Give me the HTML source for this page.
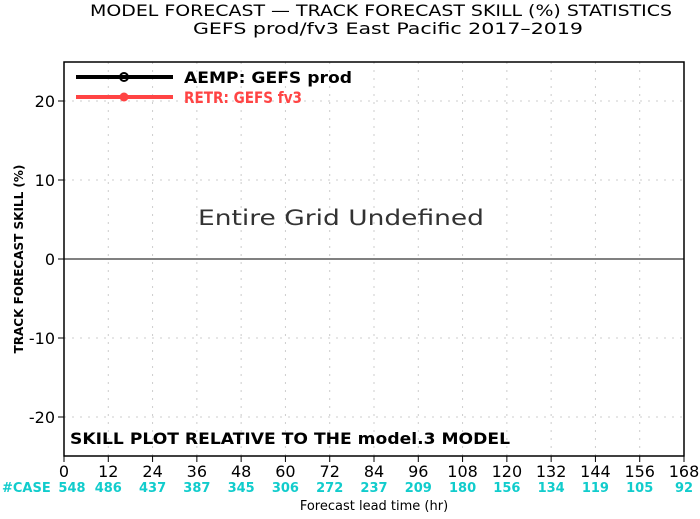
<!DOCTYPE html>
<html><head><meta charset="utf-8"><style>
body{margin:0;background:#fff}
svg text{font-family:"DejaVu Sans","Liberation Sans",sans-serif}
</style></head><body>
<svg id="chart" width="700" height="514" xmlns="http://www.w3.org/2000/svg">
<text x="90" y="16" font-size="16" textLength="582" lengthAdjust="spacingAndGlyphs">MODEL FORECAST — TRACK FORECAST SKILL (%) STATISTICS</text>
<text x="193" y="34" font-size="16" textLength="390" lengthAdjust="spacingAndGlyphs">GEFS prod/fv3 East Pacific 2017–2019</text>
<g id="grid"></g>
<g id="axes"></g>
<rect x="64" y="62" width="620" height="394" fill="none" stroke="#000" stroke-width="1.5"/>
<line x1="64" y1="259" x2="684" y2="259" stroke="#000" stroke-width="1"/>
<text x="198" y="225" font-size="21" fill="#333" textLength="286" lengthAdjust="spacingAndGlyphs">Entire Grid Undefined</text>
<g>
<line x1="76" y1="77" x2="173" y2="77" stroke="#000" stroke-width="4"/>
<circle cx="124" cy="77" r="4" fill="none" stroke="#000" stroke-width="2"/>
<text x="184" y="83" font-size="16" font-weight="bold" textLength="168" lengthAdjust="spacingAndGlyphs">AEMP: GEFS prod</text>
<line x1="76" y1="97" x2="173" y2="97" stroke="#f44" stroke-width="4"/>
<circle cx="124" cy="97" r="4.5" fill="#f44"/>
<text x="184" y="103" font-size="16" font-weight="bold" fill="#f44" textLength="118" lengthAdjust="spacingAndGlyphs">RETR: GEFS fv3</text>
</g>
<text x="70" y="444" font-size="16" font-weight="bold" textLength="440" lengthAdjust="spacingAndGlyphs">SKILL PLOT RELATIVE TO THE model.3 MODEL</text>
<text transform="translate(23,259) rotate(-90)" text-anchor="middle" font-size="12" font-weight="bold">TRACK FORECAST SKILL (%)</text>
<text x="374" y="510" text-anchor="middle" font-size="13">Forecast lead time (hr)</text>
<text x="2" y="492" font-size="13" font-weight="bold" fill="#1cc">#CASE</text>
<g id="cases"></g>
</svg>
<script>
const xTicks=[0,12,24,36,48,60,72,84,96,108,120,132,144,156,168];
const yTicks=[-20,-10,0,10,20];
const caseCounts=[548,486,437,387,345,306,272,237,209,180,156,134,119,105,92];
const NS="http://www.w3.org/2000/svg";
const X=v=>64+v/168*620, Y=v=>259-v*7.9;
const grid=document.getElementById('grid'),axes=document.getElementById('axes'),cases=document.getElementById('cases');
function mk(tag,at,parent){const e=document.createElementNS(NS,tag);for(const k in at)e.setAttribute(k,at[k]);parent.appendChild(e);return e;}
xTicks.forEach(t=>{
 if(t>0&&t<168){const g=mk('line',{x1:X(t),y1:62,x2:X(t),y2:456,stroke:'#ccc','stroke-dasharray':'2,6','stroke-width':1},grid);
 
 }
 const tk=mk('line',{x1:X(t),y1:456,x2:X(t),y2:462,stroke:'#000'},axes);
 
 
 const l=mk('text',{x:X(t),y:477,'text-anchor':'middle','font-size':16},axes);l.textContent=t;
 
 
});
yTicks.forEach(t=>{
 if(t!==0){const g=mk('line',{x1:64,y1:Y(t),x2:684,y2:Y(t),stroke:'#ccc','stroke-dasharray':'2,6','stroke-width':1},grid);
 
 }
 const tk=mk('line',{x1:58,y1:Y(t),x2:64,y2:Y(t),stroke:'#000'},axes);
 
 
 const l=mk('text',{x:55,y:Y(t)+6,'text-anchor':'end','font-size':16},axes);l.textContent=t;
 
 
});
caseCounts.forEach((c,i)=>{
 const l=mk('text',{x:X(xTicks[i])+(i===0?8:0),y:492,'text-anchor':'middle','font-size':13,'font-weight':'bold',fill:'#1cc'},cases);l.textContent=c;
 
 
});
</script>
</body></html>
